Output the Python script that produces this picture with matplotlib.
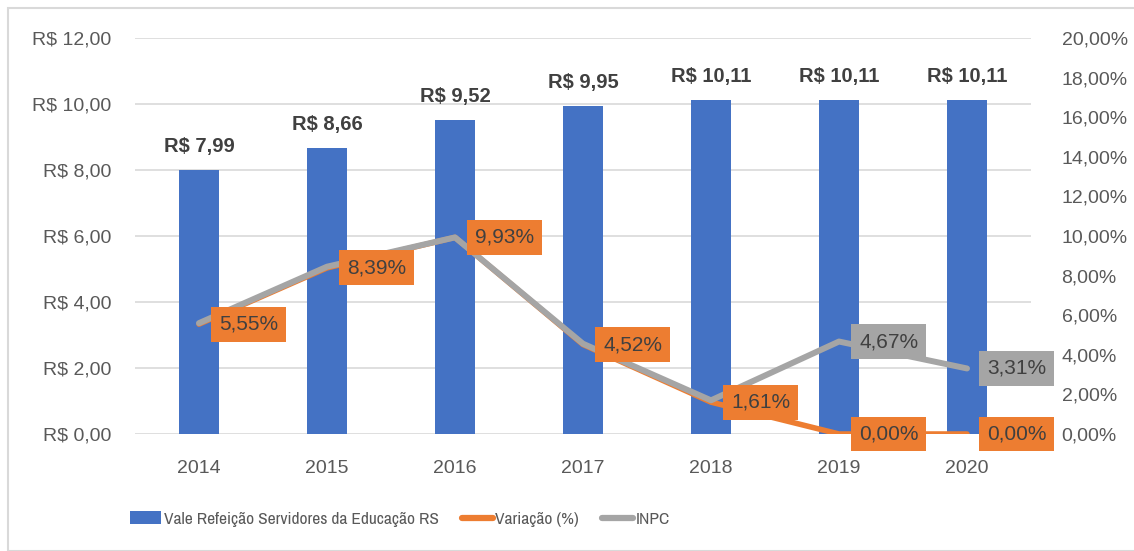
import matplotlib.pyplot as plt
import numpy as np
from matplotlib.patches import Rectangle, Patch
from matplotlib.lines import Line2D
from matplotlib import font_manager

anos = ["2014", "2015", "2016", "2017", "2018", "2019", "2020"]
vale = [7.99, 8.66, 9.52, 9.95, 10.11, 10.11, 10.11]
variacao = [5.55, 8.39, 9.93, 4.52, 1.61, 0.00, 0.00]
inpc = [5.60, 8.45, 9.93, 4.56, 1.70, 4.67, 3.31]
inpc_rotulos = [None, None, None, None, None, 4.67, 3.31]

AZUL = "#4472C4"
LARANJA = "#ED7D31"
CINZA = "#A5A5A5"
TEXTO = "#595959"
ESCURO = "#404040"

plt.rcParams["font.family"] = ["Liberation Sans", "DejaVu Sans"]


def peso(f):
    w = f.weight
    return w if isinstance(w, int) else font_manager.weight_dict.get(str(w), 400)


# Liberation Sans Narrow (lightest upright face) looks closest to the Calibri legend
legend_prop = font_manager.FontProperties(family="Liberation Sans", size=10.5)
narrow = [f for f in font_manager.fontManager.ttflist
          if "Narrow" in f.name and f.style == "normal"]
narrow.sort(key=peso)
if narrow:
    legend_prop = font_manager.FontProperties(fname=narrow[0].fname, size=12.5)


def br(v, dec=2):
    return f"{v:.{dec}f}".replace(".", ",")


fig = plt.figure(figsize=(11.34, 5.51), dpi=100)
W, H = 1134, 551
fig.patches.append(Rectangle((8 / W, 0), 1.2, 1 - 8 / H, transform=fig.transFigure,
                             fill=False, edgecolor="#D9D9D9", linewidth=1.5))

ax = fig.add_axes([135 / W, 117 / H, 896 / W, 396 / H])
ax2 = ax.twinx()

x = np.arange(len(anos))
ax.bar(x, vale, width=0.31, color=AZUL, zorder=2)
ax.set_ylim(0, 12)
ax.set_xlim(-0.5, len(anos) - 0.5)
ax.set_yticks(np.arange(0, 13, 2))
ax.set_yticklabels([f"R$ {br(v)}" for v in np.arange(0, 13, 2)])
ax.set_xticks(x)
ax.set_xticklabels(anos)
ax.grid(axis="y", color="#D9D9D9", linewidth=1.2, zorder=0)
ax.set_axisbelow(True)
for s in ax.spines.values():
    s.set_visible(False)
ax.tick_params(axis="y", length=0, pad=17, labelsize=14, labelcolor=TEXTO)
ax.tick_params(axis="x", length=0, pad=19, labelsize=14, labelcolor=TEXTO)

for xi, v in zip(x, vale):
    ax.annotate(f"R$ {br(v)}", (xi, v), xytext=(0, 14), textcoords="offset pixels",
                ha="center", va="bottom", fontsize=14.5, fontweight="bold", color=ESCURO)

ax2.set_ylim(0, 20)
ax2.set_yticks(np.arange(0, 21, 2))
ax2.set_yticklabels([f"{br(v)}%" for v in np.arange(0, 21, 2)])
ax2.tick_params(axis="y", length=0, pad=22, labelsize=14, labelcolor=TEXTO)
for s in ax2.spines.values():
    s.set_visible(False)

ax2.plot(x, variacao, color=LARANJA, linewidth=4.0, solid_capstyle="round", zorder=3)
ax2.plot(x, inpc, color=CINZA, linewidth=4.3, solid_capstyle="round", zorder=4)

box = dict(boxstyle="square,pad=0.38", edgecolor="none")
for xi, v in zip(x, variacao):
    ax2.annotate(f"{br(v)}%", (xi, v), xytext=(20, 0), textcoords="offset pixels",
                 ha="left", va="center", fontsize=15, color=ESCURO, zorder=6,
                 bbox=dict(box, facecolor=LARANJA))
for xi, v in zip(x, inpc_rotulos):
    if v is None:
        continue
    ax2.annotate(f"{br(v)}%", (xi, v), xytext=(20, 0), textcoords="offset pixels",
                 ha="left", va="center", fontsize=15, color=ESCURO, zorder=6,
                 bbox=dict(box, facecolor=CINZA))

handles = [Patch(facecolor=AZUL, edgecolor="none"),
           Line2D([0], [0], color=LARANJA, linewidth=4.5, solid_capstyle="round"),
           Line2D([0], [0], color=CINZA, linewidth=4.5, solid_capstyle="round")]
labels = ["Vale Refeição Servidores da Educação RS", "Variação (%)", "INPC"]
fig.legend(handles, labels, loc="center", bbox_to_anchor=(400 / W, 1 - 519 / H),
           ncol=3, frameon=False, handlelength=1.8, handletextpad=0.15, columnspacing=1.3,
           prop=legend_prop, labelcolor=TEXTO)

fig.savefig("out.png", dpi=100)
